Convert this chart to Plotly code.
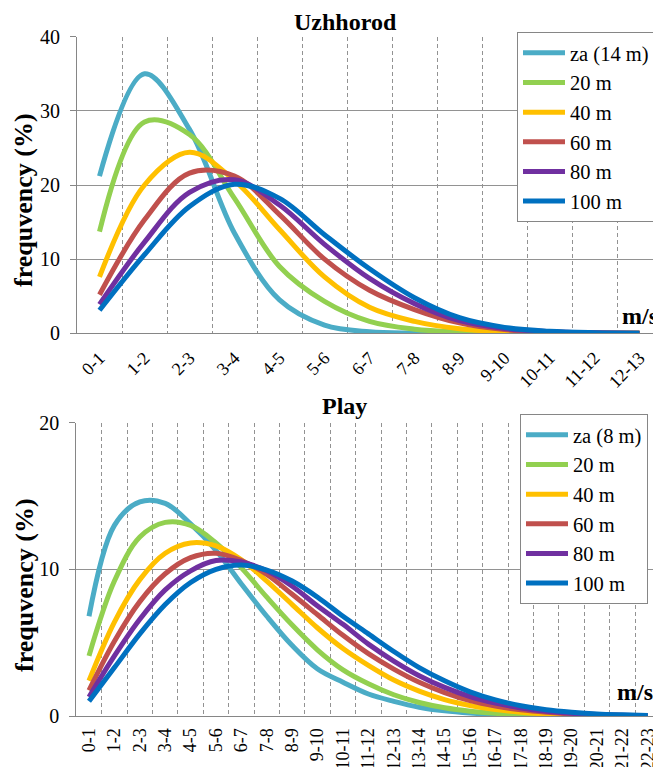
import plotly.graph_objects as go

# ---------------- data ----------------
top_categories = ["0-1", "1-2", "2-3", "3-4", "4-5", "5-6", "6-7", "7-8", "8-9",
                  "9-10", "10-11", "11-12", "12-13"]
top_names = ["za (14 m)", "20 m", "40 m", "60 m", "80 m", "100 m"]
top_za = [21.2, 35.0, 27.5, 13.5, 4.5, 1.1, 0.2, 0.04, 0.0, 0.0, 0.0, 0.0, 0.0]
top_20 = [13.7, 28.5, 26.8, 18.2, 9.0, 4.3, 1.6, 0.55, 0.18, 0.05, 0.01, 0.0, 0.0]
top_40 = [7.6, 20.0, 24.4, 20.6, 14.0, 7.6, 3.5, 1.6, 0.6, 0.2, 0.06, 0.02, 0.0]
top_60 = [5.2, 15.3, 21.6, 21.2, 16.0, 10.0, 5.8, 3.2, 1.4, 0.5, 0.17, 0.05, 0.01]
top_80 = [3.9, 12.3, 19.0, 20.7, 17.3, 12.0, 7.4, 4.0, 1.7, 0.65, 0.22, 0.06, 0.02]
top_100 = [3.1, 10.6, 17.1, 20.1, 18.2, 13.3, 8.7, 4.8, 2.1, 0.8, 0.27, 0.08, 0.02]

bot_categories = ["0-1", "1-2", "2-3", "3-4", "4-5", "5-6", "6-7", "7-8", "8-9",
                  "9-10", "10-11", "11-12", "12-13", "13-14", "14-15", "15-16",
                  "16-17", "17-18", "18-19", "19-20", "20-21", "21-22", "22-23"]
bot_names = ["za (8 m)", "20 m", "40 m", "60 m", "80 m", "100 m"]
bot_za = [6.8, 13.0, 14.6, 14.5, 13.1, 11.3, 9.0, 6.8, 4.8, 3.2, 2.3, 1.5, 1.0,
          0.6, 0.35, 0.2, 0.11, 0.05, 0.02, 0.01, 0.0, 0.0, 0.0]
bot_20 = [4.1, 9.2, 12.2, 13.2, 13.0, 11.8, 10.1, 8.1, 6.2, 4.5, 3.15, 2.2, 1.45,
          0.92, 0.56, 0.33, 0.19, 0.1, 0.05, 0.03, 0.01, 0.0, 0.0]
bot_40 = [2.4, 6.4, 9.3, 11.1, 11.8, 11.6, 10.65, 9.2, 7.6, 6.0, 4.6, 3.45, 2.45,
          1.7, 1.12, 0.72, 0.44, 0.26, 0.14, 0.08, 0.04, 0.02, 0.01]
bot_60 = [1.75, 5.1, 7.8, 9.7, 10.8, 11.1, 10.6, 9.65, 8.3, 6.9, 5.5, 4.25, 3.2,
          2.3, 1.6, 1.05, 0.68, 0.42, 0.25, 0.14, 0.07, 0.04, 0.02]
bot_80 = [1.3, 4.1, 6.6, 8.6, 9.9, 10.6, 10.5, 9.9, 8.85, 7.5, 6.25, 4.9, 3.75,
          2.75, 1.95, 1.33, 0.88, 0.55, 0.33, 0.19, 0.1, 0.05, 0.03]
bot_100 = [1.0, 3.3, 5.6, 7.6, 9.1, 10.0, 10.3, 9.95, 9.2, 8.1, 6.8, 5.6, 4.4,
           3.3, 2.4, 1.65, 1.1, 0.7, 0.43, 0.26, 0.14, 0.08, 0.04]

colors = ["#4BACC6", "#92D050", "#FFC000", "#C0504D", "#7030A0", "#0070C0"]
top_ticks = [0, 10, 20, 30, 40]
bot_ticks = [0, 10, 20]

# ---------------- figure ----------------
W, H = 653, 767
FONT = "Liberation Serif"
GRID = "#929292"
AXIS = "#868686"

fig = go.Figure()
top_series = [top_za, top_20, top_40, top_60, top_80, top_100]
bot_series = [bot_za, bot_20, bot_40, bot_60, bot_80, bot_100]
top_pos = list(range(len(top_categories)))
bot_pos = list(range(len(bot_categories)))

for name, vals, col in zip(top_names, top_series, colors):
    fig.add_trace(go.Scatter(x=top_pos, y=vals, name=name, mode="lines",
                             line=dict(color=col, width=5, shape="spline", smoothing=1),
                             xaxis="x", yaxis="y", legend="legend"))
for name, vals, col in zip(bot_names, bot_series, colors):
    fig.add_trace(go.Scatter(x=bot_pos, y=vals, name=name, mode="lines",
                             line=dict(color=col, width=5, shape="spline", smoothing=1),
                             xaxis="x2", yaxis="y2", legend="legend2"))

def px_x(p):
    return p / W

def px_y(p):
    return 1 - p / H

top_left, top_top, top_bot, top_step = 77.0, 36.7, 333.3, 45.0
bot_left, bot_top, bot_bot, bot_step = 76.3, 422.7, 716.0, 25.4

top_range = [-0.5, -0.5 + (W - top_left) / top_step]
bot_range = [-0.5, -0.5 + (W - bot_left) / bot_step]

top_bounds = [i + 0.5 for i in top_pos[:-1]]
bot_bounds = [i + 0.5 for i in bot_pos[:-1]]

def xaxis_def(domain_left, rng, pos, cats, bounds, anchor, angle, standoff):
    return dict(domain=[px_x(domain_left), 1], range=rng, anchor=anchor, type="linear",
                tickmode="array", tickvals=pos, ticktext=cats, tickangle=angle,
                showgrid=False, zeroline=False, showline=True, linecolor=AXIS, linewidth=1,
                ticks="", ticklabelstandoff=standoff, ticklabeloverflow="allow",
                tickfont=dict(family=FONT, size=18, color="black"),
                minor=dict(tickmode="array", tickvals=bounds, showgrid=True,
                           gridcolor=GRID, griddash="4px,3px", gridwidth=1, ticks=""))

ycommon = dict(showgrid=True, gridcolor=GRID, gridwidth=1, zeroline=False, showline=True,
               linecolor=AXIS, linewidth=1, ticks="outside", ticklen=6, tickcolor=AXIS,
               tickfont=dict(family=FONT, size=20, color="black"), ticklabelstandoff=6)

legend_common = dict(xanchor="left", yanchor="top", bgcolor="white", bordercolor=AXIS,
                     borderwidth=1, font=dict(family=FONT, size=20.5, color="black"),
                     itemwidth=42, entrywidth=150, entrywidthmode="pixels")

fig.update_layout(
    width=W, height=H,
    margin=dict(l=0, r=0, t=0, b=0, autoexpand=False),
    paper_bgcolor="white", plot_bgcolor="white",
    showlegend=True,
    xaxis=xaxis_def(top_left, top_range, top_pos, top_categories, top_bounds, "y", -45, 6),
    yaxis=dict(domain=[px_y(top_bot), px_y(top_top)], range=[0, 40], tickvals=top_ticks,
               anchor="x", **ycommon),
    xaxis2=xaxis_def(bot_left, bot_range, bot_pos, bot_categories, bot_bounds, "y2", -90, 4),
    yaxis2=dict(domain=[px_y(bot_bot), px_y(bot_top)], range=[0, 20], tickvals=bot_ticks,
                anchor="x2", **ycommon),
    legend=dict(x=px_x(517), y=px_y(32), **legend_common),
    legend2=dict(x=px_x(520), y=px_y(414), **legend_common),
)

bold = dict(family=FONT, color="black")
ann = [
    dict(text="<b>Uzhhorod</b>", x=px_x(345), y=px_y(22), font=dict(size=24, **bold)),
    dict(text="<b>Play</b>", x=px_x(344), y=px_y(406), font=dict(size=24, **bold)),
    dict(text="<b>frequvency (%)</b>", x=px_x(24), y=px_y(200), textangle=-90,
         font=dict(size=26, **bold)),
    dict(text="<b>frequvency (%)</b>", x=px_x(24), y=px_y(585), textangle=-90,
         font=dict(size=26, **bold)),
    dict(text="<b>m/s</b>", x=px_x(620), y=px_y(316), xanchor="left",
         font=dict(size=24, **bold)),
    dict(text="<b>m/s</b>", x=px_x(615), y=px_y(692), xanchor="left",
         font=dict(size=24, **bold)),
]
for a in ann:
    a.setdefault("xanchor", "center")
    fig.add_annotation(xref="paper", yref="paper", showarrow=False, yanchor="middle", **a)

fig.write_html("out.html", config={"displayModeBar": False},
               post_script="document.body.style.margin='0';document.body.style.overflow='hidden';")
